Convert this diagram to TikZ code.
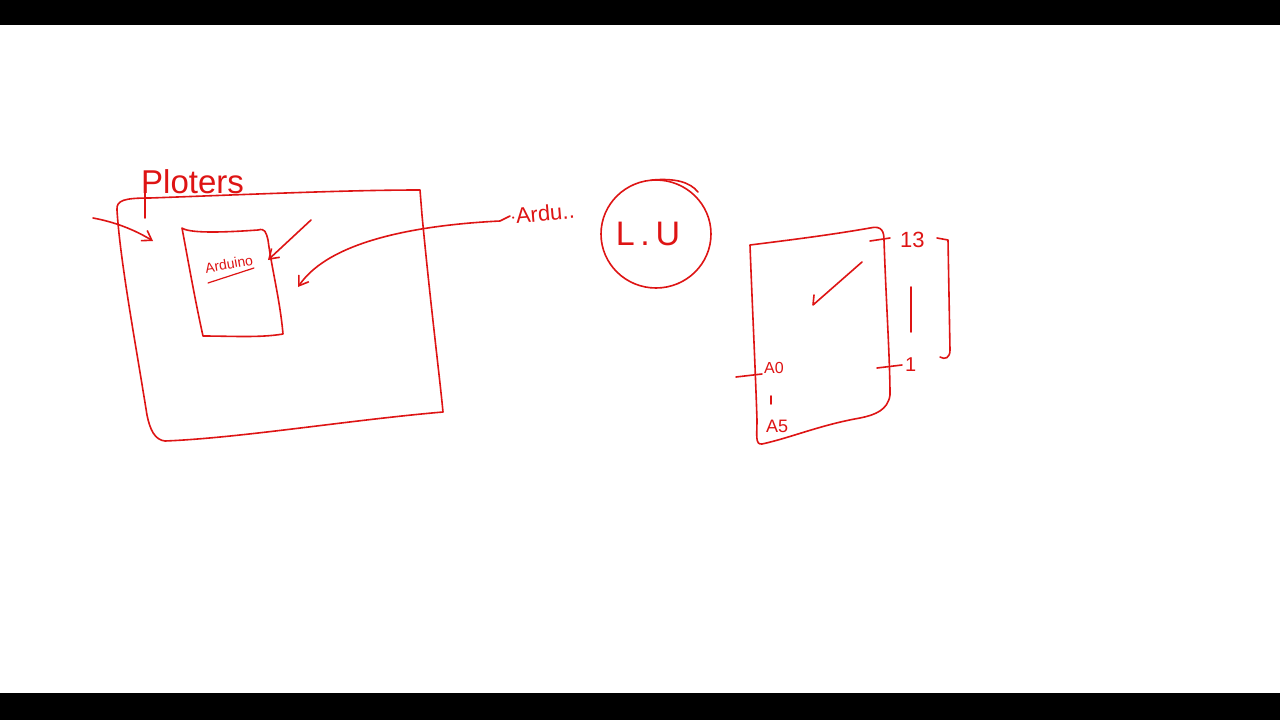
\documentclass[tikz,border=0pt]{standalone}
\usepackage{fontspec}
\setmainfont{Liberation Sans}
\usetikzlibrary{arrows.meta}
\definecolor{pen}{RGB}{222,20,20}
\begin{document}
\begin{tikzpicture}[x=1pt,y=-1pt,
  ink/.style={draw=pen,line width=1.6pt,line cap=round,line join=round},
  arr/.style={ink,-{Straight Barb[length=9pt,width=12pt]}},
  lbl/.style={text=pen,inner sep=0pt,font=\fontsize{#1}{#1}\selectfont},
  lbl/.default=20]
\useasboundingbox (0,0) rectangle (1280,720);
\fill[white] (0,0) rectangle (1280,720);
\fill[black] (0,0) rectangle (1280,25);
\fill[black] (0,693) rectangle (1280,720);

% Big plotter box
\draw[ink] (150,198) .. controls (260,194) and (350,190) .. (420,190)
  -- (422,215) .. controls (430,300) and (440,380) .. (443,412)
  .. controls (350,420) and (240,438) .. (165,441)
  .. controls (155,440) and (150,430) .. (147,415)
  .. controls (135,340) and (120,260) .. (117,210)
  .. controls (116,200) and (125,198) .. (150,198);
\node[lbl=33,anchor=south west] (ploters) at (141,194) {Ploters};
\draw[ink] (ploters.south west) ++(4,-2) -- ++(0,26);

% arrow into big box
\coordinate (a1s) at (93,218);
\coordinate (a1e) at (153,241);
\draw[arr] (a1s) .. controls (115,222) and (135,230) .. (a1e);

% inner Arduino board
\draw[ink] (182,228) .. controls (190,234) and (230,232) .. (258,230)
  .. controls (265,228) and (266,232) .. (268,240)
  .. controls (272,270) and (280,300) .. (283,334)
  .. controls (260,338) and (230,336) .. (203,336)
  .. controls (195,300) and (188,260) .. (182,228);
\node[lbl=14,rotate=10] (ard) at (229,264) {Arduino};
\draw[ink,line width=1.2pt] (208,283) -- (254,268);

% arrow to board
\coordinate (a2s) at (311,220);
\coordinate (a2e) at (268,260);
\draw[arr] (a2s) -- (a2e);

% Arduino label and curved arrow
\node[lbl=22,rotate=5,anchor=west] (ardlbl) at (510,216) {$\cdot$Ardu..};
\draw[arr] (ardlbl.west) -- (500,221) .. controls (420,225) and (330,240) .. (298,287);

% circle L.U
\draw[ink] (656,234) circle[x radius=55,y radius=54];
\draw[ink] (652,180) .. controls (675,178) and (690,182) .. (698,192);
\node[lbl=34] (lu) at (648,234) {L\,.\,U};

% right box (board)
\draw[ink] (750,245) .. controls (790,240) and (830,235) .. (870,228)
  .. controls (882,225) and (884,232) .. (884,240)
  .. controls (886,300) and (890,360) .. (890,395)
  .. controls (888,410) and (875,415) .. (860,418)
  .. controls (820,425) and (790,438) .. (762,444)
  .. controls (755,445) and (757,435) .. (757,420)
  .. controls (755,360) and (752,300) .. (750,245);
% checkmark
\draw[ink] (814,295) -- (813,305) -- (862,262);
% pin ticks
\draw[ink] (870,241) -- (890,238);
\node[lbl=22,anchor=west] (p13) at (900,240) {13};
\draw[ink] (911,287) -- (911,332);
\draw[ink] (877,368) -- (902,365);
\node[lbl=20,anchor=west] (p1) at (905,365) {1};
\draw[ink] (937,238) -- (948,240) -- (950,350) .. controls (950,358) and (945,360) .. (940,357);
\draw[ink] (736,377) -- (762,374);
\node[lbl=16,anchor=west] (a0) at (764,368) {A0};
\draw[ink] (771,396) -- (771,404);
\node[lbl=18,anchor=west] (a5) at (766,426) {A5};
\end{tikzpicture}
\end{document}
